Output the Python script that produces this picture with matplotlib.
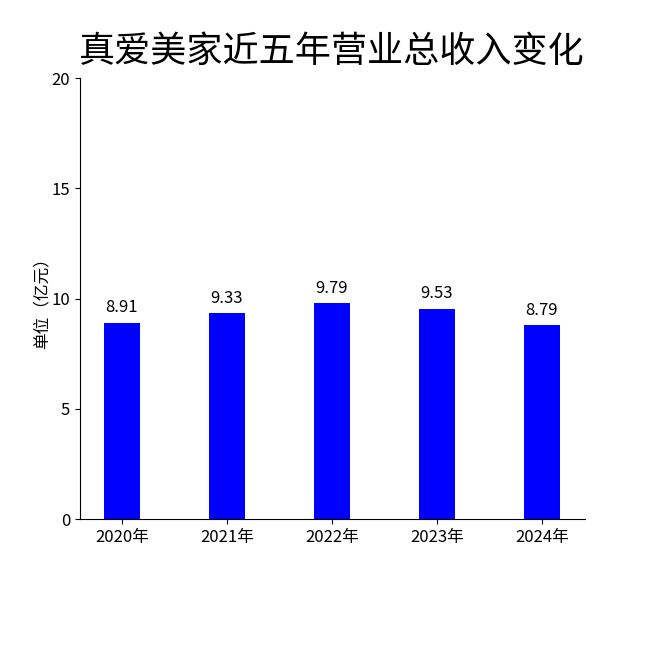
import matplotlib.pyplot as plt

plt.rcParams['font.family'] = ['Noto Sans CJK SC', 'DejaVu Sans']

years = ['2020年', '2021年', '2022年', '2023年', '2024年']
revenue = [8.91, 9.33, 9.79, 9.53, 8.79]

fig = plt.figure(figsize=(6.5, 6.5), dpi=100)
ax = fig.add_axes([0.123, 0.2015, 0.777, 0.678])

x = list(range(len(years)))
ax.bar(x, revenue, width=0.35, color='#0000ff')
for i, v in zip(x, revenue):
    ax.text(i, v + 0.3, f'{v:.2f}', ha='center', va='bottom', fontsize=12)

ax.set_xticks(x)
ax.set_xticklabels(years, fontsize=12)
ax.set_xlim(-0.4, 4.41)
ax.set_ylim(0, 20)
ax.set_yticks([0, 5, 10, 15, 20])
ax.tick_params(axis='y', labelsize=12)
ax.set_ylabel('单位（亿元）', fontsize=12, labelpad=1)
ax.spines['top'].set_visible(False)
ax.spines['right'].set_visible(False)

fig.text(0.51, 0.92, '真爱美家近五年营业总收入变化', ha='center', va='center', fontsize=26)

fig.savefig('out.png')
